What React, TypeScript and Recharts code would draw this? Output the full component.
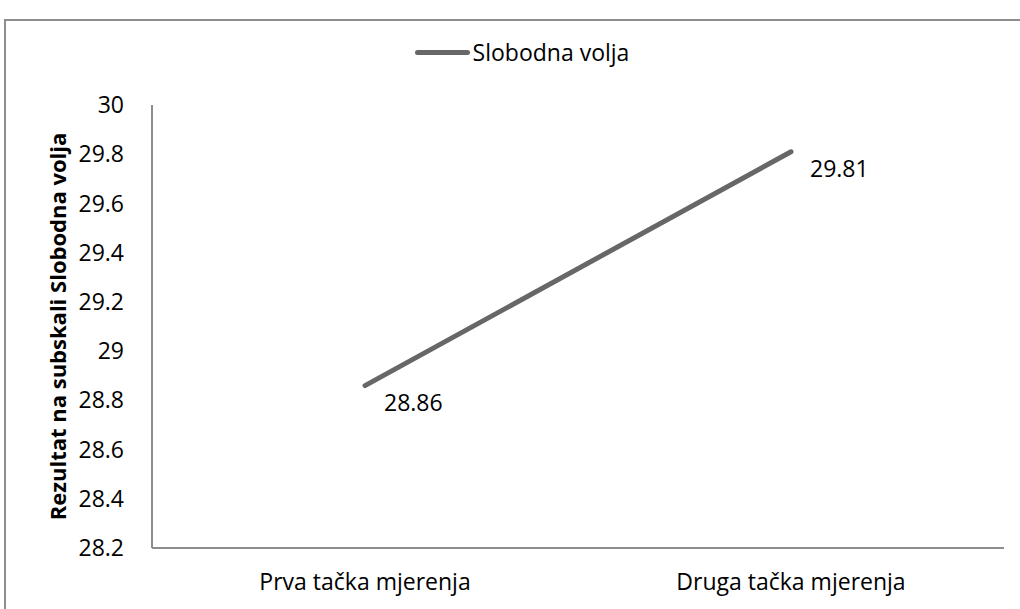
import React from 'react';
import { LineChart, Line, XAxis, YAxis, Legend, LabelList } from 'recharts';

const categories = ['Prva tačka mjerenja', 'Druga tačka mjerenja'];
const slobodnaVolja = [28.86, 29.81];
const yTicks = [28.2, 28.4, 28.6, 28.8, 29, 29.2, 29.4, 29.6, 29.8, 30];
const seriesName = 'Slobodna volja';
const yTitle = 'Rezultat na subskali Slobodna volja';

const chartData = categories.map((name, i) => ({ name, value: slobodnaVolja[i] }));

const FONT = '"Open Sans", "Noto Sans", sans-serif';
const LINE_COLOR = '#676767';
const LEGEND_H = 26;

const ValueLabel = (props: any) => {
    const { x, y, value } = props;
    return (
        <text x={x + 19} y={y + 19} fontSize={23} fontFamily={FONT} fill="#000" dominantBaseline="middle">
            {value}
        </text>
    );
};

const YTitle = (props: any) => {
    const { viewBox } = props;
    const cy = viewBox.y + viewBox.height / 2;
    return (
        <text
            x={60}
            y={cy}
            transform={`rotate(-90, 60, ${cy})`}
            textAnchor="middle"
            dominantBaseline="middle"
            fontSize={22}
            fontWeight="bold"
            fontFamily={FONT}
            fill="#000"
        >
            {yTitle}
        </text>
    );
};

const LegendBox = () => (
    <div style={{ height: LEGEND_H, paddingLeft: 24, display: 'flex', justifyContent: 'center', alignItems: 'center', fontFamily: FONT, fontSize: 23 }}>
        <span style={{ display: 'inline-block', width: 55, height: 5, borderRadius: 3, background: LINE_COLOR }} />
        <span style={{ marginLeft: 3 }}>{seriesName}</span>
    </div>
);

const App = () => {
    return (
        <div style={{ position: 'absolute', left: 0, top: 0, width: 1020, height: 609, overflow: 'hidden', background: '#fff' }}>
            <div style={{ position: 'absolute', left: 4, top: 19, width: 1040, height: 620, border: '2px solid #8d8d8d' }} />
            <div style={{ position: 'absolute', left: 0, top: 0 }}>
                <LineChart width={1020} height={609} data={chartData} margin={{ top: 105 - LEGEND_H, right: 16, bottom: 0, left: 0 }}>
                    <Legend verticalAlign="top" content={<LegendBox />} wrapperStyle={{ top: 39, left: 0, width: 1020 }} />
                    <XAxis
                        dataKey="name"
                        height={61}
                        padding={{ left: 213, right: 213 }}
                        tickLine={false}
                        axisLine={{ stroke: '#8d8d8d', strokeWidth: 2 }}
                        tick={{ fill: '#000', fontSize: 23, fontFamily: FONT }}
                        tickMargin={20}
                        interval={0}
                    />
                    <YAxis
                        width={152}
                        domain={[28.2, 30]}
                        ticks={yTicks}
                        tickLine={false}
                        axisLine={{ stroke: '#8d8d8d', strokeWidth: 2 }}
                        tick={{ fill: '#000', fontSize: 23, fontFamily: FONT }}
                        tickMargin={22}
                        tickFormatter={(v: number) => String(Number(v.toFixed(1)))}
                        label={<YTitle />}
                    />
                    <Line
                        dataKey="value"
                        name={seriesName}
                        stroke={LINE_COLOR}
                        strokeWidth={5}
                        strokeLinecap="round"
                        dot={false}
                        activeDot={false}
                        isAnimationActive={false}
                    >
                        <LabelList dataKey="value" content={<ValueLabel />} />
                    </Line>
                </LineChart>
            </div>
        </div>
    );
};

export default App;
